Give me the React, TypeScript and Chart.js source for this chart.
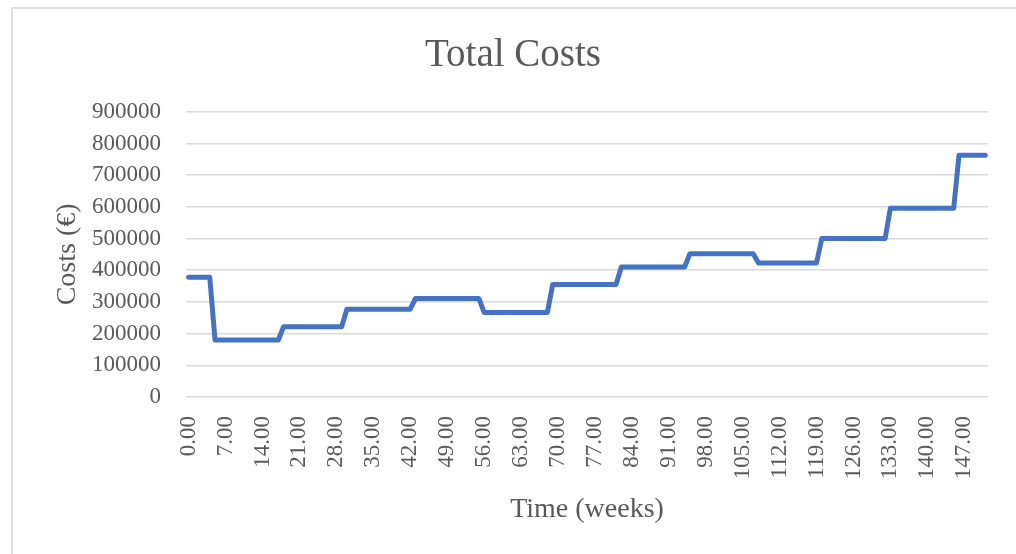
import React, { useEffect, useRef } from "react";
import { Chart, registerables } from "chart.js";

Chart.register(...registerables);

// Week at each corner of the stepped cost curve, and the total cost there (EUR)
const cornerWeeks = [0, 4, 5, 17, 18, 29, 30, 42, 43, 55, 56, 68, 69, 81, 82, 94, 95, 107, 108, 119, 120, 132, 133, 145, 146, 151];
const totalCosts = [
  378000, 378000, 180000, 180000, 222000, 222000, 277000, 277000, 311000, 311000,
  267000, 267000, 355000, 355000, 410000, 410000, 452000, 452000, 423000, 423000,
  500000, 500000, 596000, 596000, 763000, 763000,
];
const weekTicks = [0, 7, 14, 21, 28, 35, 42, 49, 56, 63, 70, 77, 84, 91, 98, 105, 112, 119, 126, 133, 140, 147];
const costTicks = [0, 100000, 200000, 300000, 400000, 500000, 600000, 700000, 800000, 900000];

const FONT = "'Liberation Serif', 'Times New Roman', serif";
const TEXT = "#595959";

export default function App() {
  const ref = useRef<HTMLCanvasElement | null>(null);

  useEffect(() => {
    if (!ref.current) return;
    const points = cornerWeeks.map((w, i) => ({ x: w, y: totalCosts[i] }));
    const chart = new Chart(ref.current, {
      type: "line",
      data: {
        datasets: [
          {
            label: "Total Costs",
            data: points,
            borderColor: "#4472C4",
            backgroundColor: "#4472C4",
            borderWidth: 5,
            pointRadius: 0,
            tension: 0,
            borderCapStyle: "round",
            borderJoinStyle: "round",
            fill: false,
          },
        ],
      },
      options: {
        responsive: false,
        animation: false,
        events: [],
        layout: { padding: { top: 0, left: 38, right: 28, bottom: 0 } },
        plugins: {
          legend: { display: false },
          tooltip: { enabled: false },
          title: {
            display: true,
            text: "Total Costs",
            color: TEXT,
            font: { family: FONT, size: 39, weight: "normal", lineHeight: 1.2 },
            padding: { top: 32, bottom: 33 },
          },
        },
        scales: {
          x: {
            type: "linear",
            min: -0.5,
            max: 151.5,
            grid: { display: false, drawTicks: false },
            border: { display: false },
            afterBuildTicks: (scale: any) => {
              scale.ticks = weekTicks.map((v) => ({ value: v }));
            },
            afterFit: (scale: any) => {
              scale.height = 157;
            },
            ticks: {
              autoSkip: false,
              minRotation: 90,
              maxRotation: 90,
              padding: 19,
              color: TEXT,
              font: { family: FONT, size: 23 },
              callback: (v: any) => Number(v).toFixed(2),
            },
            title: {
              display: true,
              text: "Time (weeks)",
              color: TEXT,
              font: { family: FONT, size: 28, lineHeight: 1.2 },
              padding: { top: 0, bottom: 28 },
            },
          },
          y: {
            min: 0,
            max: 900000,
            grid: { color: "#d9d9d9", lineWidth: 1.5, drawTicks: false },
            border: { display: false },
            afterBuildTicks: (scale: any) => {
              scale.ticks = costTicks.map((v) => ({ value: v }));
            },
            afterFit: (scale: any) => {
              scale.width = 148;
            },
            ticks: {
              padding: 25,
              color: TEXT,
              font: { family: FONT, size: 23 },
              callback: (v: any) => String(v),
            },
            title: {
              display: true,
              text: "Costs (€)",
              color: TEXT,
              font: { family: FONT, size: 28, lineHeight: 1.2 },
              padding: { top: 13, bottom: 0 },
            },
          },
        },
      },
    });
    return () => chart.destroy();
  }, []);

  return (
    <div
      style={{
        position: "fixed",
        left: 0,
        top: 0,
        width: 1016,
        height: 554,
        overflow: "hidden",
        background: "#ffffff",
      }}
    >
      <div
        style={{
          position: "absolute",
          left: 11,
          top: 7,
          width: 1100,
          height: 700,
          border: "2px solid #e0e0e0",
          boxSizing: "border-box",
          pointerEvents: "none",
        }}
      />
      <canvas
        ref={ref}
        width={1016}
        height={554}
        style={{ position: "absolute", left: 0, top: 0, width: 1016, height: 554 }}
      />
    </div>
  );
}
